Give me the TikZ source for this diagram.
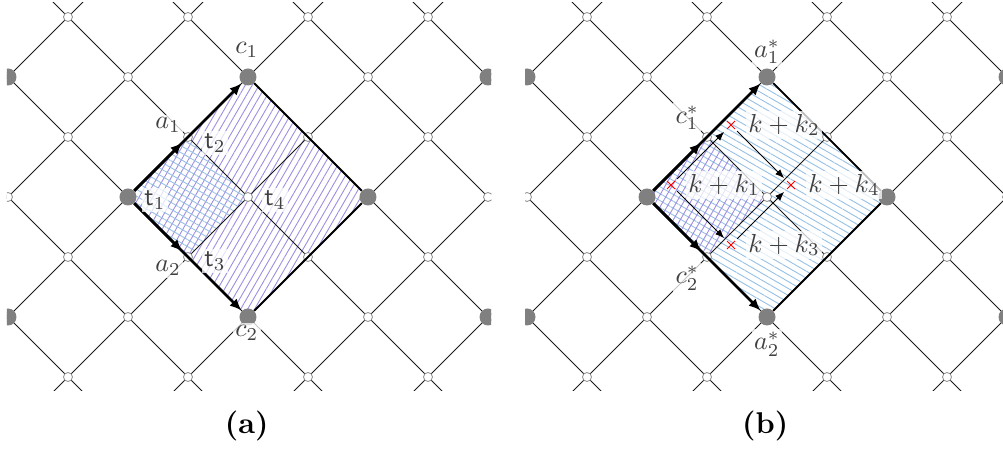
\documentclass[tikz,border=0pt]{standalone}
\usetikzlibrary{arrows.meta, calc, patterns.meta, shapes.misc}
\definecolor{hatchpurple}{RGB}{160,140,225}
\definecolor{hatchblue}{RGB}{150,192,230}
\definecolor{hubgray}{RGB}{128,128,128}
\definecolor{labelgray}{RGB}{64,64,64}

\tikzset{
  latline/.style={line width=0.5pt, black!90},
  site/.style={circle, draw=black!45, fill=white, line width=0.4pt,
               minimum size=4.5pt, inner sep=0pt},
  hub/.style={circle, fill=hubgray, minimum size=8.5pt, inner sep=0pt},
  rim/.style={line width=0.9pt},
  bigarrow/.style={line width=1.3pt, -{Latex[length=6pt,width=5pt]}},
  steparrow/.style={line width=0.5pt, -{Latex[length=4.5pt,width=3.5pt]},
                    shorten <=1.5pt, shorten >=2pt},
  redx/.style={cross out, draw=red, line width=0.5pt,
               minimum size=3.5pt, inner sep=0pt},
  lab/.style={text=labelgray, font=\normalsize, scale=1.3, transform shape,
              fill=white, fill opacity=0.75, text opacity=1, inner sep=1pt},
  caption/.style={font=\normalsize\bfseries, scale=1.5, transform shape},
  purplehatch/.style={pattern={Lines[angle=60,distance=3pt,line width=0.45pt]},
                      pattern color=hatchpurple},
  bluehatch/.style={pattern={Lines[angle=-30,distance=3pt,line width=0.45pt]},
                    pattern color=hatchblue},
}

% diagonal lattice, sites and hubs; #1 = name prefix
\newcommand{\latticegrid}[1]{%
  \foreach \c in {-6,-4,...,10} {
    \draw[latline] (\c-4,-4) -- (\c+4,4);
    \draw[latline] (\c+4,-4) -- (\c-4,4);
  }
  \foreach \i in {-2,...,6} {
    \foreach \j in {-3,...,3} {
      \pgfmathtruncatemacro\sumodd{mod(\i+\j+20,2)}
      \pgfmathtruncatemacro\ii{\i+2}
      \pgfmathtruncatemacro\jj{\j+3}
      \ifnum\sumodd=0 \node[site] (#1s\ii\jj) at (\i,\j) {};\fi
    }
  }
  \foreach \i/\j in {-2/-2,2/-2,6/-2,0/0,4/0,-2/2,2/2,6/2} {
    \pgfmathtruncatemacro\ii{\i+2}
    \pgfmathtruncatemacro\jj{\j+3}
    \node[hub] (#1h\ii\jj) at (\i,\j) {};
  }
}

\begin{document}
\begin{tikzpicture}[x=30pt, y=-30pt]
\useasboundingbox (-2.133,-3.283) rectangle (14.583,4.217);

% (a)
\begin{scope}
  \clip (-2.017,-3.233) rectangle (6.05,3.217);
  \fill[purplehatch] (0,0) -- (2,-2) -- (4,0) -- (2,2) -- cycle;
  \fill[bluehatch] (0,0) -- (1,-1) -- (2,0) -- (1,1) -- cycle;
  \latticegrid{L}
\end{scope}
\draw[rim] (Lh41) -- (Lh63) -- (Lh45);
\draw[bigarrow] (Lh23) -- (Lh41);
\draw[bigarrow, shorten >=1.5pt] (Lh23) -- (Ls32);
\draw[bigarrow] (Lh23) -- (Lh45);
\draw[bigarrow, shorten >=1.5pt] (Lh23) -- (Ls34);

\node[lab] (lc1) at (1.98,-2.45) {$c_1$};
\node[lab] (lc2) at (1.98,2.27) {$c_2$};
\node[lab] (la1) at (0.67,-1.2) {$a_1$};
\node[lab] (la2) at (0.67,1.18) {$a_2$};
\node[lab] (lt1) at (0.45,0.05) {$\mathsf{t}_1$};
\node[lab] (lt2) at (1.45,-0.9) {$\mathsf{t}_2$};
\node[lab] (lt3) at (1.45,1.07) {$\mathsf{t}_3$};
\node[lab] (lt4) at (2.45,0.05) {$\mathsf{t}_4$};
\node[caption] (capa) at (1.98,3.82) {(a)};

% (b)
\begin{scope}[shift={(8.65,0)}]
  \begin{scope}
    \clip (-2.033,-3.233) rectangle (6.05,3.217);
    \fill[bluehatch] (0,0) -- (2,-2) -- (4,0) -- (2,2) -- cycle;
    \fill[purplehatch] (0,0) -- (1,-1) -- (2,0) -- (1,1) -- cycle;
    \latticegrid{R}
  \end{scope}
  \draw[rim] (Rh41) -- (Rh63) -- (Rh45);
  \draw[bigarrow] (Rh23) -- (Rh41);
  \draw[bigarrow, shorten >=1.5pt] (Rh23) -- (Rs32);
  \draw[bigarrow] (Rh23) -- (Rh45);
  \draw[bigarrow, shorten >=1.5pt] (Rh23) -- (Rs34);

  \node[redx] (k1) at (0.4,-0.2) {};
  \node[redx] (k2) at (1.4,-1.2) {};
  \node[redx] (k3) at (1.4,0.8) {};
  \node[redx] (k4) at (2.4,-0.2) {};
  \draw[steparrow] (k1) -- (k2);
  \draw[steparrow] (k1) -- (k3);
  \draw[steparrow] (k2) -- (k4);
  \draw[steparrow] (k3) -- (k4);

  \node[lab, anchor=west, xshift=5.5pt] (lk1) at (k1) {$k+k_1$};
  \node[lab, anchor=west, xshift=5.5pt] (lk2) at (k2) {$k+k_2$};
  \node[lab, anchor=west, xshift=5.5pt] (lk3) at (k3) {$k+k_3$};
  \node[lab, anchor=west, xshift=5.5pt] (lk4) at (k4) {$k+k_4$};
  \node[lab] (la1s) at (2,-2.42) {$a_1^*$};
  \node[lab] (la2s) at (2,2.45) {$a_2^*$};
  \node[lab] (lc1s) at (0.67,-1.32) {$c_1^*$};
  \node[lab] (lc2s) at (0.67,1.35) {$c_2^*$};
  \node[caption] (capb) at (1.97,3.82) {(b)};
\end{scope}
\end{tikzpicture}
\end{document}
